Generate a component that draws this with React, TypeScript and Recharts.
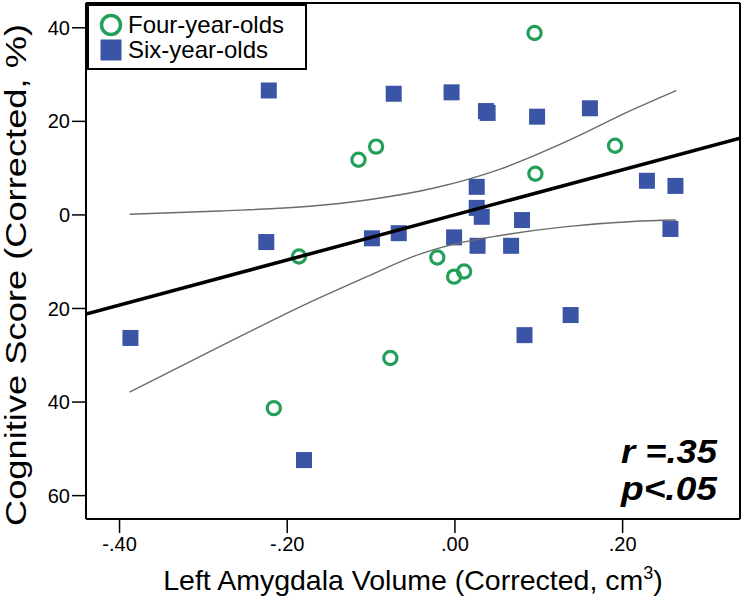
import React from "react";
import {
  ScatterChart,
  Scatter,
  XAxis,
  YAxis,
  Legend,
  ReferenceLine,
} from "recharts";

const FONT = '"Liberation Sans", Arial, Helvetica, sans-serif';
const GREEN = "#22a05a";
const BLUE = "#3a55a5";

// four-year-olds (hollow circles)
const fourX = [0.095, -0.115, -0.094, 0.191, 0.096, -0.186, -0.021, 0.011, -0.001, -0.077, -0.216];
const fourY = [38.9, 11.8, 14.6, 14.8, 8.8, -8.9, -9.1, -12.1, -13.2, -30.6, -41.3];

// six-year-olds (filled squares)
const sixX = [
  -0.222, -0.073, -0.004, 0.037, 0.039, 0.098, 0.161, 0.026, 0.229, 0.263, 0.026, 0.032,
  0.08, -0.225, -0.099, -0.067, -0.001, 0.027, 0.067, 0.257, 0.083, 0.138, -0.387, -0.18,
];
const sixY = [
  26.6, 25.9, 26.2, 22.2, 21.8, 21.0, 22.8, 6.0, 7.3, 6.2, 1.5, -0.4,
  -1.1, -5.8, -5.0, -3.9, -4.8, -6.6, -6.6, -3.0, -25.7, -21.4, -26.3, -52.4,
];

// fitted line and confidence band
const fitX = [-0.44, 0.34];
const fitY = [-21.2, 16.4];
const upperX = [-0.388, -0.28, -0.177, -0.105, -0.026, 0.054, 0.133, 0.212, 0.264];
const upperY = [0.15, 0.85, 1.8, 3.2, 5.7, 9.8, 15.7, 22.5, 26.6];
const lowerX = [-0.388, -0.28, -0.177, -0.105, -0.05, 0.0, 0.054, 0.133, 0.212, 0.264];
const lowerY = [-37.9, -28.1, -19.0, -13.2, -8.9, -6.2, -4.4, -2.5, -1.4, -1.1];

const xDomain = [-0.44, 0.34];
const yDomain = [-65, 45.3];
const xTicks = [-0.4, -0.2, 0, 0.2];
const yTicks = [-60, -40, -20, 0, 20, 40];

const legendItems = [
  { name: "Four-year-olds", kind: "circle", color: GREEN },
  { name: "Six-year-olds", kind: "square", color: BLUE },
];

const toPoints = (xs: number[], ys: number[]) => xs.map((x, i) => ({ x, y: ys[i] }));

const fmtX = (v: number) => {
  const s = Math.abs(v).toFixed(2).replace(/^0/, "");
  return v < 0 ? "-" + s : s;
};

const Ring = (p: any) => (
  <circle cx={p.cx} cy={p.cy} r={6.6} fill="none" stroke={GREEN} strokeWidth={3.2} />
);
const Square = (p: any) => (
  <rect x={p.cx - 8} y={p.cy - 8} width={16} height={16} fill={BLUE} />
);
const NoDot = () => <g />;

const LegendBox = () => (
  <div
    style={{
      width: 216,
      height: 56,
      border: "2px solid #000",
      background: "#fff",
      fontFamily: FONT,
      fontSize: 24,
      paddingTop: 6,
      boxSizing: "content-box",
    }}
  >
    {legendItems.map((it) => (
      <div key={it.name} style={{ display: "flex", alignItems: "center", height: 25 }}>
        <svg width={24} height={24} style={{ marginLeft: 10, marginRight: 5 }}>
          {it.kind === "circle" ? (
            <circle cx={12} cy={12} r={9.5} fill="none" stroke={it.color} strokeWidth={3.5} />
          ) : (
            <rect x={1.5} y={1.5} width={21} height={21} fill={it.color} />
          )}
        </svg>
        <span style={{ lineHeight: "25px", color: "#000" }}>{it.name}</span>
      </div>
    ))}
  </div>
);

const XTitle = (props: any) => {
  const vb = props.viewBox;
  return (
    <text x={vb.x + vb.width / 2} y={vb.y + 71} textAnchor="middle" fontSize={28.5} fontFamily={FONT} fill="#000">
      Left Amygdala Volume (Corrected, cm
      <tspan dy={-11} fontSize={18}>3</tspan>
      <tspan dy={11}>)</tspan>
    </text>
  );
};

const YTitle = (props: any) => {
  const vb = props.viewBox;
  const cy = vb.y + vb.height / 2 + 14;
  return (
    <text
      transform={`translate(26, ${cy}) rotate(-90)`}
      textAnchor="middle"
      fontSize={30}
      fontFamily={FONT}
      fill="#000"
      textLength={502}
      lengthAdjust="spacingAndGlyphs"
    >
      Cognitive Score (Corrected, %)
    </text>
  );
};

const StatsNote = (props: any) => {
  const vb = props.viewBox;
  const right = vb.x - 23;
  const bottom = vb.y + vb.height;
  return (
    <g fontFamily={FONT} fontSize={34} fontWeight="bold" fontStyle="italic" fill="#000">
      <text x={right} y={bottom - 56} textAnchor="end" textLength={96} lengthAdjust="spacingAndGlyphs">
        r =.35
      </text>
      <text x={right} y={bottom - 19} textAnchor="end" textLength={96} lengthAdjust="spacingAndGlyphs">
        p&lt;.05
      </text>
    </g>
  );
};

export default function App() {
  const four = toPoints(fourX, fourY);
  const six = toPoints(sixX, sixY);
  const fit = toPoints(fitX, fitY);
  const upper = toPoints(upperX, upperY);
  const lower = toPoints(lowerX, lowerY);

  return (
    <div style={{ position: "absolute", left: 0, top: 0, width: 746, height: 604, background: "#fff", fontFamily: FONT }}>
      <ScatterChart width={746} height={604} margin={{ top: 3, right: 6, left: 0, bottom: 0 }}>
        <XAxis
          dataKey="x"
          type="number"
          domain={xDomain}
          ticks={xTicks}
          tickFormatter={fmtX}
          height={85}
          tickSize={14}
          tickMargin={4}
          allowDataOverflow
          axisLine={{ stroke: "#000", strokeWidth: 2 }}
          tickLine={{ stroke: "#000", strokeWidth: 1.5 }}
          tick={{ fontSize: 20, fill: "#000", fontFamily: FONT }}
          label={{ content: XTitle }}
        />
        <YAxis
          dataKey="y"
          type="number"
          domain={yDomain}
          ticks={yTicks}
          tickFormatter={(v: number) => String(Math.abs(v))}
          width={86}
          tickSize={14}
          tickMargin={2}
          allowDataOverflow
          axisLine={{ stroke: "#000", strokeWidth: 2 }}
          tickLine={{ stroke: "#000", strokeWidth: 1.5 }}
          tick={{ fontSize: 20, fill: "#000", fontFamily: FONT }}
          label={{ content: YTitle }}
        />
        <ReferenceLine y={yDomain[1]} stroke="#000" strokeWidth={2} />
        <ReferenceLine x={xDomain[1]} stroke="#000" strokeWidth={2} label={{ content: StatsNote }} />
        <Legend
          layout="vertical"
          align="center"
          verticalAlign="middle"
          content={LegendBox}
          wrapperStyle={{ left: 87, top: 4, width: "auto", height: "auto" }}
        />
        <Scatter name="Four-year-olds" data={four} shape={Ring} isAnimationActive={false} />
        <Scatter name="Six-year-olds" data={six} shape={Square} isAnimationActive={false} />
        <Scatter
          name="upper"
          data={upper}
          shape={NoDot}
          line={{ stroke: "#6b6b6b", strokeWidth: 1.4 }}
          lineJointType="monotoneX"
          legendType="none"
          isAnimationActive={false}
        />
        <Scatter
          name="lower"
          data={lower}
          shape={NoDot}
          line={{ stroke: "#6b6b6b", strokeWidth: 1.4 }}
          lineJointType="monotoneX"
          legendType="none"
          isAnimationActive={false}
        />
        <Scatter
          name="fit"
          data={fit}
          shape={NoDot}
          line={{ stroke: "#000", strokeWidth: 3.5 }}
          legendType="none"
          isAnimationActive={false}
        />
      </ScatterChart>
    </div>
  );
}
